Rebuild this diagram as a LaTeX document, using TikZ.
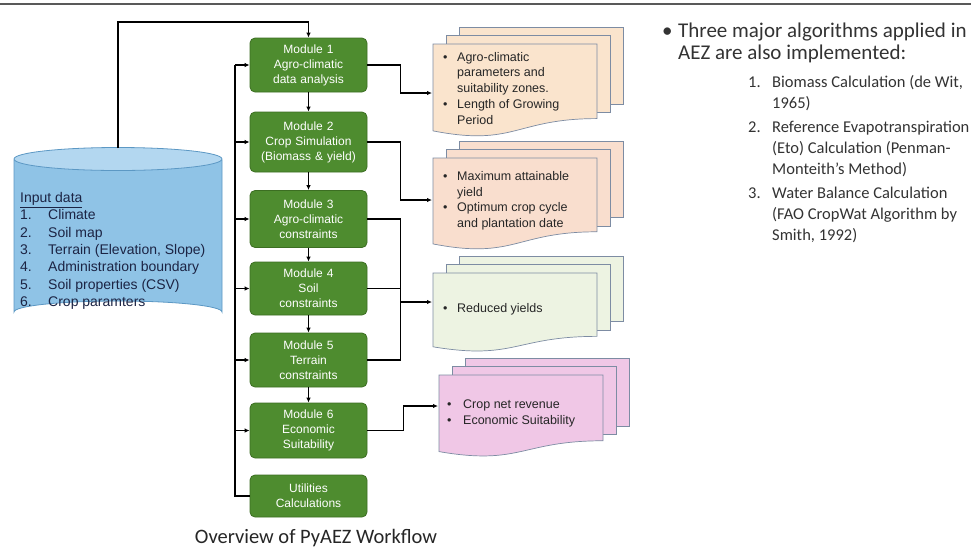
\documentclass[tikz,border=0pt]{standalone}
\usepackage{fontspec}
\setmainfont{Liberation Sans}
\newfontfamily\calibrifont{Carlito}
\usetikzlibrary{arrows.meta,calc}
\definecolor{modgreen}{HTML}{4E8C2F}
\definecolor{modborder}{HTML}{3C6E22}
\definecolor{cylfill}{HTML}{8FC3E6}
\definecolor{cyltop}{HTML}{B3D7F0}
\definecolor{cylline}{HTML}{5C98C4}
\definecolor{docline}{HTML}{7D8CA3}
\definecolor{peachA}{HTML}{FAE4CD}
\definecolor{peachB}{HTML}{F9DECE}
\definecolor{greenD}{HTML}{EDF3E2}
\definecolor{pinkD}{HTML}{F0C7E6}
\definecolor{inputtext}{HTML}{1C2444}
\tikzset{
  mod/.style={draw=modborder, fill=modgreen, rounded corners=5pt, minimum width=117pt,
    text width=112pt, align=center, text=white, inner sep=0pt, line width=0.8pt,
    font=\fontsize{12}{15}\selectfont},
  arr/.style={line width=1.3pt, -{Latex[length=5pt,width=4.5pt]}},
  conn/.style={line width=1.3pt},
  docedge/.style={draw=docline, line width=0.7pt},
  doctext/.style={anchor=west, align=left, inner sep=0pt, text=black!85,
    font=\fontsize{12.5}{15.7}\selectfont},
  rtext/.style={anchor=west, align=left, inner sep=0pt, text=black!80,
    font=\calibrifont\fontsize{16.5}{21}\selectfont}
}
\newcommand\docstack[4]{%
  \begin{scope}[shift={(#1,#2)}]
    \filldraw[docedge, fill=#4] (26,-17) rectangle ++(164,{0.83*#3});
    \filldraw[docedge, fill=#4] (13,-8.5) rectangle ++(164,{0.83*#3});
    \filldraw[docedge, fill=#4] (0,0) -- (164,0) -- (164,{0.802*#3})
      .. controls (82,{0.802*#3}) and (82,{1.107*#3}) .. (0,{0.934*#3}) -- cycle;
  \end{scope}}
\begin{document}
\begin{tikzpicture}[x=1pt,y=-1pt]
\useasboundingbox (0,0) rectangle (971,550);
\fill[white] (0,0) rectangle (971,550);
% top rule
\draw[line width=1.5pt, color=black!65] (0,4) -- (971,4);

% cylinder
\filldraw[draw=cylline, fill=cylfill, line width=0.8pt]
  (14,160) -- (14,312) arc[start angle=180, end angle=360, x radius=104, y radius=11] -- (222,160) -- cycle;
\filldraw[draw=cylline, fill=cyltop, line width=0.8pt] (118,159) ellipse [x radius=104, y radius=11.5];
\node[anchor=west, inner sep=0pt, text=inputtext, font=\fontsize{14}{17.3}\selectfont] (input) at (20,251)
 {\begin{tabular}{@{}p{28pt}@{}l@{}}
  \multicolumn{2}{@{}l@{}}{\underline{Input data}}\\
  1. & Climate\\
  2. & Soil map\\
  3. & Terrain (Elevation, Slope)\\
  4. & Administration boundary\\
  5. & Soil properties (CSV)\\
  6. & Crop paramters
 \end{tabular}};

% modules
\node[mod, minimum height=54pt] (m1) at (308.5,65) {Module 1\\Agro-climatic\\data analysis};
\node[mod, minimum height=60pt] (m2) at (308.5,142) {Module 2\\Crop Simulation\\(Biomass \& yield)};
\node[mod, minimum height=57pt] (m3) at (308.5,219) {Module 3\\Agro-climatic\\constraints};
\node[mod, minimum height=53pt] (m4) at (308.5,288.5) {Module 4\\Soil\\constraints};
\node[mod, minimum height=54pt] (m5) at (308.5,360) {Module 5\\Terrain\\constraints};
\node[mod, minimum height=55pt] (m6) at (308.5,430.5) {Module 6\\Economic\\Suitability};
\node[mod, minimum height=42pt] (util) at (308.5,496) {Utilities\\Calculations};

% input to module 1
\coordinate (cyltopc) at (118,148);
\coordinate (topturn) at (118,22);
\draw[arr] (cyltopc) -- (topturn) -| (m1.north);

% bus
\coordinate (busx) at (235,0);
\draw[conn] (m1.west -| busx) -- (util.west -| busx) -- (util.west);
\foreach \m in {m1,m2,m3,m4,m5,m6}{
  \draw[arr] (\m.west -| busx) -- (\m.west);
}
% vertical arrows
\draw[arr] (m1.south) -- (m2.north);
\draw[arr] (m2.south) -- (m3.north);
\draw[arr] (m3.south) -- (m4.north);
\draw[arr] (m4.south) -- (m5.north);
\draw[arr] (m5.south) -- (m6.north);

% documents
\docstack{433}{44}{93}{peachA}
\docstack{433}{158}{92}{peachB}
\docstack{433}{273}{79}{greenD}
\docstack{439}{375}{82}{pinkD}

\node[doctext] (d1) at (443,89.5)
 {\begin{tabular}{@{}p{14pt}@{}l@{}}
  • & Agro-climatic\\ & parameters and\\ & suitability zones.\\
  • & Length of Growing\\ & Period \end{tabular}};
\node[doctext] (d2) at (443,201)
 {\begin{tabular}{@{}p{14pt}@{}l@{}}
  • & Maximum attainable\\ & yield\\
  • & Optimum crop cycle\\ & and plantation date \end{tabular}};
\node[doctext] (d3) at (443,309)
 {\begin{tabular}{@{}p{14pt}@{}l@{}}• & Reduced yields\end{tabular}};
\node[doctext] (d4) at (447,413.5)
 {\begin{tabular}{@{}p{16pt}@{}l@{}}• & Crop net revenue\\ • & Economic Suitability\end{tabular}};

% outputs
\coordinate (d1in) at (432,93);
\coordinate (d2in) at (432,200);
\coordinate (d3in) at (432,302);
\coordinate (d4in) at (438,406);
\coordinate (j34) at (400,302);
\draw[arr] (m1.east) -- ++(33,0) |- (d1in);
\draw[arr] (m2.east) -- ++(33,0) |- (d2in);
\draw[conn] (m3.east) -- ++(33,0) |- (m5.east);
\draw[conn] (m4.east) -- ++(33,0);
\draw[arr] (j34) -- (d3in);
\draw[arr] (m6.east) -- ++(36,0) |- (d4in);

% right text
\node[anchor=west, align=left, inner sep=0pt, text=black!80,
  font=\calibrifont\fontsize{21}{22.5}\selectfont] (intro) at (662,44)
 {\begin{tabular}{@{}p{16pt}@{}l@{}}• & Three major algorithms applied in\\ & AEZ are also implemented:\end{tabular}};
\node[rtext] (alg1) at (748,93.5)
 {\begin{tabular}{@{}p{24pt}@{}l@{}}1. & Biomass Calculation (de Wit,\\ & 1965)\end{tabular}};
\node[rtext] (alg2) at (748,149)
 {\begin{tabular}{@{}p{24pt}@{}l@{}}2. & Reference Evapotranspiration\\ & (Eto) Calculation (Penman-\\ & Monteith’s Method)\end{tabular}};
\node[rtext] (alg3) at (748,215)
 {\begin{tabular}{@{}p{24pt}@{}l@{}}3. & Water Balance Calculation\\ & (FAO CropWat Algorithm by\\ & Smith, 1992)\end{tabular}};

% caption
\node[inner sep=0pt, text=black!85, font=\calibrifont\fontsize{20.5}{24}\selectfont] (cap) at (316,538)
 {Overview of PyAEZ Workflow};
\end{tikzpicture}
\end{document}
